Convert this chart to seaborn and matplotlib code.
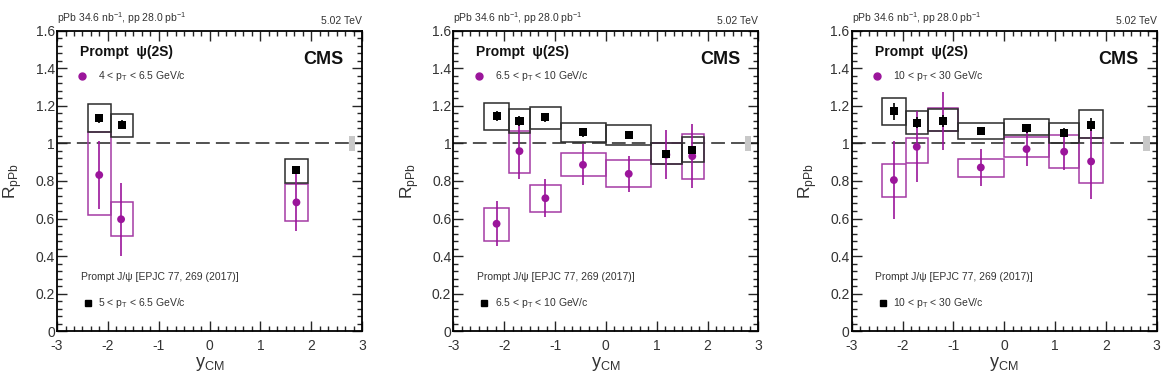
import numpy as np
import matplotlib
matplotlib.use("Agg")
import matplotlib.pyplot as plt
import matplotlib.ticker as ticker
import seaborn as sns

# ── data ─────────────────────────────────────────────────────────────────────
PT_PSI  = ["4 < p$_\\mathregular{T}$ < 6.5 GeV/c",
           "6.5 < p$_\\mathregular{T}$ < 10 GeV/c",
           "10 < p$_\\mathregular{T}$ < 30 GeV/c"]
PT_JPSI = ["5 < p$_\\mathregular{T}$ < 6.5 GeV/c",
           "6.5 < p$_\\mathregular{T}$ < 10 GeV/c",
           "10 < p$_\\mathregular{T}$ < 30 GeV/c"]

# panel 1
p1_x      = [-2.17, -1.72, 1.71]
p1_xlo    = [-2.40, -1.93, 1.48]
p1_xhi    = [-1.93, -1.50, 1.93]
p1_jpsi   = [1.134, 1.100, 0.857]
p1_jerr   = [0.025, 0.025, 0.020]
p1_jsyslo = [1.063, 1.037, 0.790]
p1_jsyshi = [1.210, 1.157, 0.918]
p1_psi_x  = [-2.17, -1.74, 1.71]
p1_psi    = [0.832, 0.596, 0.686]
p1_perr   = [0.180, 0.195, 0.150]
p1_psyslo = [0.618, 0.507, 0.587]
p1_psyshi = [1.059, 0.686, 0.786]

# panel 2
p2_x      = [-2.15, -1.70, -1.19, -0.45, 0.45, 1.19, 1.70]
p2_xlo    = [-2.40, -1.91, -1.49, -0.89, 0.00, 0.89, 1.50]
p2_xhi    = [-1.91, -1.49, -0.89, 0.00, 0.89, 1.50, 1.93]
p2_jpsi   = [1.147, 1.119, 1.139, 1.059, 1.046, 0.943, 0.964]
p2_jerr   = [0.025, 0.025, 0.025, 0.025, 0.020, 0.020, 0.025]
p2_jsyslo = [1.071, 1.057, 1.075, 1.009, 0.991, 0.890, 0.899]
p2_jsyshi = [1.217, 1.183, 1.192, 1.108, 1.098, 1.000, 1.034]
p2_psi    = [0.572, 0.959, 0.708, 0.886, 0.838, 0.940, 0.932]
p2_perr   = [0.120, 0.150, 0.100, 0.110, 0.095, 0.130, 0.170]
p2_psyslo = [0.481, 0.845, 0.637, 0.828, 0.770, 0.890, 0.810]
p2_psyshi = [0.658, 1.066, 0.779, 0.950, 0.911, 1.000, 1.053]

# panel 3
p3_x      = [-2.17, -1.72, -1.20, -0.46, 0.44, 1.18, 1.71]
p3_xlo    = [-2.41, -1.93, -1.50, -0.90, 0.00, 0.89, 1.48]
p3_xhi    = [-1.93, -1.50, -0.90, 0.00, 0.89, 1.48, 1.94]
p3_jpsi   = [1.172, 1.110, 1.120, 1.066, 1.080, 1.057, 1.100]
p3_jerr   = [0.045, 0.030, 0.030, 0.020, 0.025, 0.025, 0.035]
p3_jsyslo = [1.100, 1.048, 1.066, 1.023, 1.044, 1.004, 1.027]
p3_jsyshi = [1.240, 1.172, 1.183, 1.110, 1.128, 1.107, 1.180]
p3_psi    = [0.805, 0.982, 1.119, 0.872, 0.970, 0.956, 0.904]
p3_perr   = [0.210, 0.190, 0.155, 0.100, 0.090, 0.095, 0.200]
p3_psyslo = [0.715, 0.897, 1.066, 0.822, 0.929, 0.870, 0.790]
p3_psyshi = [0.893, 1.027, 1.187, 0.917, 1.036, 1.044, 1.027]

GLOBAL_X   = 2.80
GLOBAL_UNC = 0.04

# ── stil ─────────────────────────────────────────────────────────────────────
MAGENTA = "#9b159b"
MAG_BOX = "#a43aa4"
BLACK   = "#000000"
BOX_K   = "#2b2b2b"
GREY    = "#c8c8c8"
TXT     = "#333333"

sns.set_style("ticks")
plt.rcParams["font.family"] = ["Liberation Sans", "DejaVu Sans"]
plt.rcParams["mathtext.fontset"] = "custom"
plt.rcParams["mathtext.rm"] = "Liberation Sans"
plt.rcParams["axes.unicode_minus"] = False


def fmt_y(v, pos):
    if abs(v) < 1e-9:
        return "0"
    if abs(v - 1) < 1e-9:
        return "1"
    return f"{v:.1f}"


def draw_panel(ax, d, pt_psi, pt_jpsi):
    x, xlo, xhi = d["x"], np.array(d["xlo"]), np.array(d["xhi"])
    psi_x = d.get("psi_x", x)

    # sistematik kutular
    ax.bar(xlo, np.array(d["psyshi"]) - np.array(d["psyslo"]), bottom=d["psyslo"],
           width=xhi - xlo, align="edge", fill=False, edgecolor=MAG_BOX, lw=1.1, zorder=2)
    ax.bar(xlo, np.array(d["jsyshi"]) - np.array(d["jsyslo"]), bottom=d["jsyslo"],
           width=xhi - xlo, align="edge", fill=False, edgecolor=BOX_K, lw=1.1, zorder=3)

    ax.axhline(1.0, color="#222222", lw=1.1, ls=(0, (9, 4)), zorder=1)
    ax.bar([GLOBAL_X], [2 * GLOBAL_UNC], bottom=[1 - GLOBAL_UNC], width=0.13,
           color=GREY, edgecolor="none", zorder=2)

    # istatistik hatalari + noktalar
    ax.errorbar(psi_x, d["psi"], yerr=d["perr"], fmt="none", ecolor=MAGENTA,
                elinewidth=1.2, capsize=0, zorder=4)
    ax.errorbar(x, d["jpsi"], yerr=d["jerr"], fmt="none", ecolor=BLACK,
                elinewidth=1.2, capsize=0, zorder=5)
    sns.scatterplot(x=psi_x, y=d["psi"], ax=ax, color=MAGENTA, marker="o", s=32,
                    edgecolor="none", zorder=6)
    sns.scatterplot(x=x, y=d["jpsi"], ax=ax, color=BLACK, marker="s", s=34,
                    edgecolor="none", zorder=7)

    ax.set_xlim(-3, 3)
    ax.set_ylim(0, 1.6)
    ax.xaxis.set_major_locator(ticker.MultipleLocator(1))
    ax.xaxis.set_minor_locator(ticker.AutoMinorLocator(6))
    ax.yaxis.set_major_locator(ticker.MultipleLocator(0.2))
    ax.yaxis.set_minor_locator(ticker.AutoMinorLocator(5))
    ax.yaxis.set_major_formatter(ticker.FuncFormatter(fmt_y))
    ax.tick_params(which="both", direction="in", top=True, right=True,
                   labelsize=10, labelcolor=TXT, width=1.0)
    ax.tick_params(axis="y", pad=1.5)
    ax.tick_params(axis="x", pad=6)
    ax.tick_params(which="major", length=7)
    ax.tick_params(which="minor", length=3.5)
    for s in ax.spines.values():
        s.set_linewidth(1.3)
        s.set_color(BLACK)

    ax.set_xlabel("y$_\\mathregular{CM}$", fontsize=13, color=TXT, labelpad=1)
    ax.set_ylabel("R$_\\mathregular{pPb}$", fontsize=12.5, color=TXT, labelpad=8)

    tr = ax.transAxes
    ax.text(0.0, 1.015, "pPb 34.6 nb$^{\\mathregular{-1}}$, pp 28.0 pb$^{\\mathregular{-1}}$",
            transform=tr, fontsize=7.5, color=TXT, ha="left", va="bottom")
    ax.text(1.0, 1.015, "5.02 TeV", transform=tr, fontsize=7.5, color=TXT,
            ha="right", va="bottom")
    ax.text(0.075, 0.93, "Prompt  \u03c8(2S)", transform=tr, fontsize=10,
            fontweight="bold", color="#111111", ha="left", va="center")
    ax.text(0.94, 0.905, "CMS", transform=tr, fontsize=13, fontweight="bold",
            color="#111111", ha="right", va="center")
    ax.plot([0.083], [0.85], transform=tr, marker="o", ms=5, color=MAGENTA, ls="none")
    ax.text(0.135, 0.85, pt_psi, transform=tr, fontsize=7.5, color=TXT,
            ha="left", va="center")
    ax.text(0.078, 0.18, "Prompt J/\u03c8 [EPJC 77, 269 (2017)]", transform=tr,
            fontsize=7.5, color=TXT, ha="left", va="center")
    ax.plot([0.102], [0.093], transform=tr, marker="s", ms=5, color=BLACK, ls="none")
    ax.text(0.135, 0.093, pt_jpsi, transform=tr, fontsize=7.5, color=TXT,
            ha="left", va="center")


panels = [
    dict(x=p1_x, xlo=p1_xlo, xhi=p1_xhi, jpsi=p1_jpsi, jerr=p1_jerr,
         jsyslo=p1_jsyslo, jsyshi=p1_jsyshi, psi_x=p1_psi_x, psi=p1_psi,
         perr=p1_perr, psyslo=p1_psyslo, psyshi=p1_psyshi),
    dict(x=p2_x, xlo=p2_xlo, xhi=p2_xhi, jpsi=p2_jpsi, jerr=p2_jerr,
         jsyslo=p2_jsyslo, jsyshi=p2_jsyshi, psi=p2_psi,
         perr=p2_perr, psyslo=p2_psyslo, psyshi=p2_psyshi),
    dict(x=p3_x, xlo=p3_xlo, xhi=p3_xhi, jpsi=p3_jpsi, jerr=p3_jerr,
         jsyslo=p3_jsyslo, jsyshi=p3_jsyshi, psi=p3_psi,
         perr=p3_perr, psyslo=p3_psyslo, psyshi=p3_psyshi),
]

fig = plt.figure(figsize=(11.64, 3.81), dpi=100, facecolor="white")
lefts = [0.049, 0.3895, 0.7317]
for i, left in enumerate(lefts):
    ax = fig.add_axes([left, 0.131, 0.262, 0.788])
    draw_panel(ax, panels[i], PT_PSI[i], PT_JPSI[i])

fig.savefig("out.png", dpi=100, facecolor="white")
